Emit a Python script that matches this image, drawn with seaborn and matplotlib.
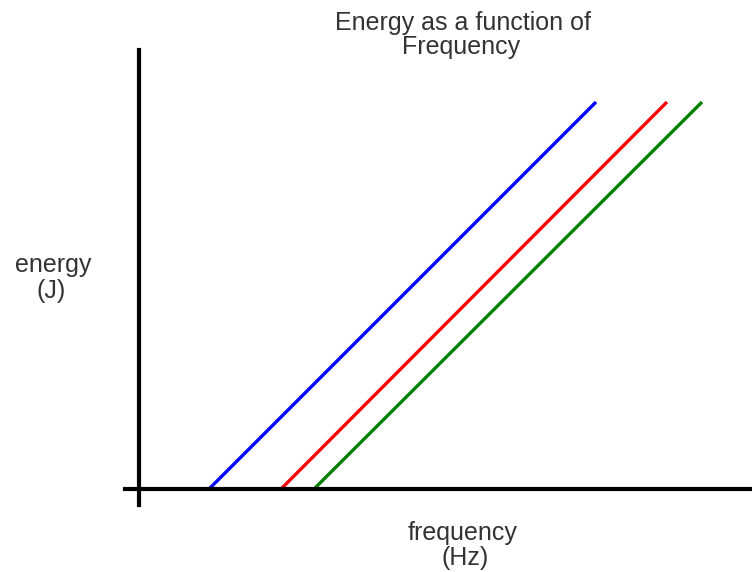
import matplotlib
matplotlib.use("Agg")
import matplotlib.pyplot as plt
import seaborn as sns
import pandas as pd

# Data (arbitrary units)
series = ["metal A", "metal B", "metal C"]
threshold_freq = [7.0, 14.2, 17.5]
end_freq = [45.7, 52.8, 56.3]
end_energy = [38.7, 38.7, 38.7]
colors = ["#0000ff", "#ff0000", "#008000"]

rows = []
for name, f0, f1, e1 in zip(series, threshold_freq, end_freq, end_energy):
    rows.append({"metal": name, "frequency": f0, "energy": 0.0})
    rows.append({"metal": name, "frequency": f1, "energy": e1})
df = pd.DataFrame(rows)

sns.set_theme(style="white")
plt.rcParams["font.family"] = ["Liberation Sans", "DejaVu Sans"]

W, H = 752, 572
fig = plt.figure(figsize=(W / 100, H / 100), dpi=100)
ax = fig.add_axes([125 / W, (H - 505) / H, 627 / W, 455 / H])

sns.lineplot(
    data=df, x="frequency", y="energy", hue="metal",
    palette=colors, linewidth=2.4, legend=False, ax=ax,
    solid_capstyle="butt",
)

ax.set_xlim(-1.4, 61.3)
ax.set_ylim(-1.6, 43.9)
ax.spines["left"].set_position(("data", 0))
ax.spines["bottom"].set_position(("data", 0))
ax.spines["right"].set_visible(False)
ax.spines["top"].set_visible(False)
for s in ("left", "bottom"):
    ax.spines[s].set_color("black")
    ax.spines[s].set_linewidth(3)
ax.set_xticks([])
ax.set_yticks([])
ax.set_xlabel("")
ax.set_ylabel("")
ax.patch.set_alpha(0)

# Texts, one line at a time (pixel positions of baselines)
txt = "#333333"
labels = [
    ("Energy as a function of", 463, 30),
    ("Frequency", 461, 54),
    ("energy", 53, 272),
    ("(J)", 51, 298),
    ("frequency", 463, 540),
    ("(Hz)", 465, 565),
]
for s, x, y in labels:
    fig.text(x / W, 1 - y / H, s, ha="center", va="baseline",
             fontsize=18, color=txt)

fig.savefig("out.png", dpi=100)
